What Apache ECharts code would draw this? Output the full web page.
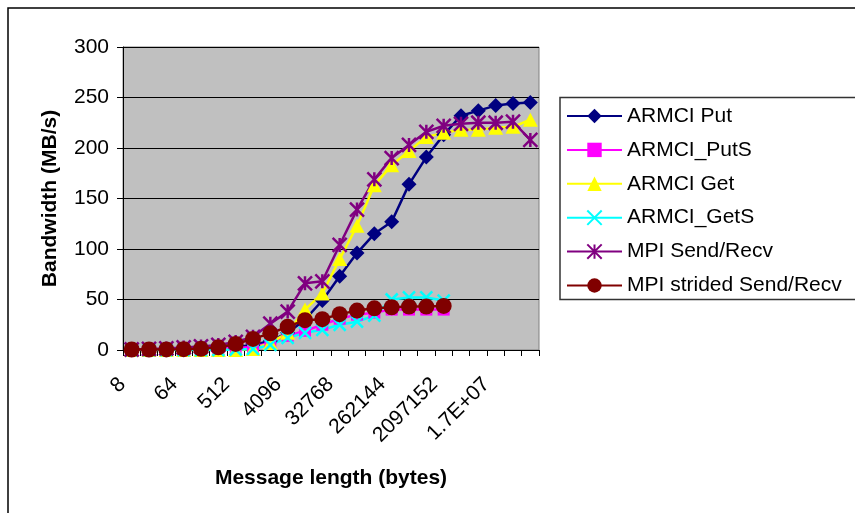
<!DOCTYPE html>
<html>
<head>
<meta charset="utf-8">
<script src="https://cdn.jsdelivr.net/npm/echarts@6/dist/echarts.min.js"></script>
<style>
  html, body { margin: 0; padding: 0; background: #fff; }
  #chart { width: 855px; height: 513px; }
</style>
</head>
<body>
<div id="chart"></div>
<script>
// Message lengths in bytes (8 .. 2^26), labelled the way the spreadsheet shows them
const sizeLabels = [
  '8', '16', '32', '64', '128', '256', '512', '1024', '2048', '4096', '8192', '16384',
  '32768', '65536', '131072', '262144', '524288', '1048576', '2097152', '4194304',
  '8388608', '1.7E+07', '3.4E+07', '6.7E+07'
];

// Bandwidth in MB/s
const armciPut     = [0.2, 0.3, 0.5, 0.8, 1.2, 2, 3, 5, 9, 17, 30, 49, 73, 96, 115, 127, 164, 191, 213, 232, 237, 242, 244, 245];
const armciPutS    = [0.3, 0.5, 0.7, 1, 1.2, 1.5, 2, 3, 7, 14, 19, 25, 31, 35, 37, 40, 40, 40, 40];
const armciGet     = [0, 0, 0, 0, 0, 0, 0, 1, 7, 17, 40, 56, 90, 123, 163, 183, 197, 211, 215, 218, 218, 220, 221, 228];
const armciGetS    = [0, 0, 0, 0, 0, 0, 0.5, 1, 5, 12, 17, 20, 25, 28, 34, 50, 52, 52, 49];
const mpiSendRecv  = [0.5, 1, 1.5, 2.5, 3.5, 5, 8, 13, 26, 38, 66, 68, 104, 139, 169, 190, 203, 216, 222, 224, 225, 225, 226, 208];
const mpiStrided   = [0.5, 0.5, 0.6, 0.8, 1.2, 2.6, 6, 11, 16.5, 23, 29.5, 30.5, 35.5, 39, 41.3, 42.3, 43, 43, 43.6];

const yTicks = { min: 0, max: 300, step: 50 };

const FONT = 'Liberation Sans, Arial, sans-serif';
const CROSS = 'path://M0,0L10,10M10,0L0,10';
const STAR = 'path://M5,0L5,10M0,0L10,10M10,0L0,10';

function solidSeries(name, data, color, symbol, size) {
  return {
    name, type: 'line', data, symbol, symbolSize: size,
    showSymbol: true, showAllSymbol: true,
    lineStyle: { color, width: 2.5 },
    itemStyle: { color, borderWidth: 0 },
    emphasis: { disabled: true }
  };
}
function strokeSeries(name, data, color, symbol, size) {
  return {
    name, type: 'line', data, symbol, symbolSize: size,
    showSymbol: true, showAllSymbol: true,
    lineStyle: { color, width: 2.5 },
    itemStyle: { color: 'rgba(0,0,0,0)', borderColor: color, borderWidth: 2.5 },
    emphasis: { disabled: true }
  };
}

const chart = echarts.init(document.getElementById('chart'), null, { renderer: 'canvas' });
chart.setOption({
  animation: false,
  backgroundColor: '#fff',
  textStyle: { fontFamily: FONT },
  graphic: [
    { type: 'rect', z: 0, silent: true,
      shape: { x: 8, y: 8, width: 900, height: 600 },
      style: { fill: 'none', stroke: '#000', lineWidth: 1.5 } },
    { type: 'rect', z: 0, silent: true,
      shape: { x: 560, y: 97.5, width: 400, height: 202 },
      style: { fill: '#fff', stroke: '#333', lineWidth: 1.5 } }
  ],
  grid: {
    left: 123, top: 47, right: 316, bottom: 163,
    show: true, backgroundColor: '#C0C0C0', borderColor: '#808080', borderWidth: 1,
    outerBoundsMode: 'none'
  },
  legend: {
    orient: 'vertical', left: 566, top: 105, padding: 0,
    itemWidth: 55, itemHeight: 18, itemGap: 11.9,
    textStyle: { fontFamily: FONT, fontSize: 21, color: '#000', lineHeight: 22 },
    selectedMode: false
  },
  xAxis: {
    type: 'category', data: sizeLabels, boundaryGap: true,
    name: 'Message length (bytes)', nameLocation: 'middle', nameGap: 118,
    nameMoveOverlap: false,
    nameTextStyle: { fontFamily: FONT, fontSize: 21, fontWeight: 'bold', color: '#000' },
    axisLine: { lineStyle: { color: '#000', width: 1 } },
    axisTick: { show: true, interval: 0, length: 6, lineStyle: { color: '#000' } },
    axisLabel: {
      interval: 2, rotate: 45, fontSize: 21, color: '#000', fontFamily: FONT,
      margin: 22, padding: [0, 13, 0, 0]
    },
    splitLine: { show: false }
  },
  yAxis: {
    type: 'value', min: yTicks.min, max: yTicks.max, interval: yTicks.step,
    name: 'Bandwidth (MB/s)', nameLocation: 'middle', nameGap: 62, nameRotate: 90,
    nameMoveOverlap: false,
    nameTextStyle: { fontFamily: FONT, fontSize: 21, fontWeight: 'bold', color: '#000' },
    axisLine: { show: true, lineStyle: { color: '#000', width: 1 } },
    axisTick: { show: true, length: 6, lineStyle: { color: '#000' } },
    axisLabel: { fontSize: 21, color: '#000', fontFamily: FONT, margin: 14 },
    splitLine: { show: true, lineStyle: { color: '#000', width: 1 } }
  },
  series: [
    solidSeries('ARMCI Put', armciPut, '#000080', 'diamond', 15),
    solidSeries('ARMCI_PutS', armciPutS, '#FF00FF', 'rect', 12),
    solidSeries('ARMCI Get', armciGet, '#FFFF00', 'triangle', [15, 14]),
    strokeSeries('ARMCI_GetS', armciGetS, '#00FFFF', CROSS, 12),
    strokeSeries('MPI Send/Recv', mpiSendRecv, '#800080', STAR, 14),
    solidSeries('MPI strided Send/Recv', mpiStrided, '#800000', 'circle', 16)
  ]
});
</script>
</body>
</html>
